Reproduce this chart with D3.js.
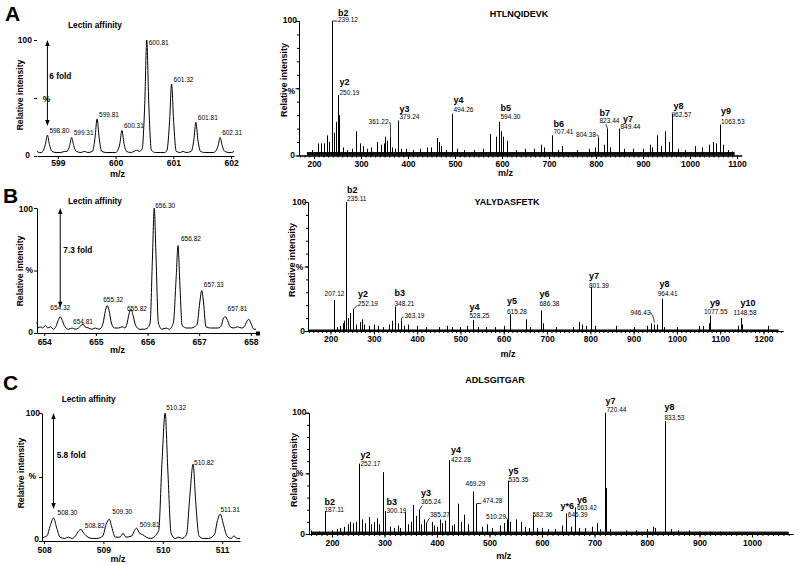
<!DOCTYPE html>
<html>
<head>
<meta charset="utf-8">
<script src="https://cdn.jsdelivr.net/npm/d3@7"></script>
<style>
html,body{margin:0;padding:0;background:#fff;}
svg{display:block;}
</style>
</head>
<body>
<svg id="chart" width="800" height="565"></svg>
<script>
// ---------------- DATA ----------------
const panelLetters = ["A", "B", "C"];
const peptideNames = ["HTLNQIDEVK", "YALYDASFETK", "ADLSGITGAR"];
const enrichmentLabel = "Lectin affinity";
const foldChanges = ["6 fold", "7.3 fold", "5.8 fold"];
const axisTitleY = "Relative intensity";
const axisTitleX = "m/z";

// isotope envelopes (left column)
const isoTicksA = [599, 600, 601, 602];
const isoTicksB = [654, 655, 656, 657, 658];
const isoTicksC = [508, 509, 510, 511];

// [annotation, apex position read on the drawn m/z axis, % intensity]
const isoPeaksA = [["598.80", 598.82, 18], ["599.31", 599.24, 16], ["599.81", 599.68, 32], ["600.31", 600.11, 22], ["600.81", 600.54, 100], ["601.32", 600.97, 62], ["601.81", 601.39, 29], ["602.31", 601.81, 16]];
const isoPeaksB = [["654.32", 654.31, 13], ["654.81", 654.75, 7], ["655.32", 655.22, 22], ["655.82", 655.68, 19], ["656.30", 656.13, 100], ["656.82", 656.59, 70], ["657.33", 657.05, 34], ["657.81", 657.51, 13]];
const isoPeaksC = [["508.30", 508.16, 18], ["508.82", 508.62, 9], ["509.30", 509.10, 17], ["509.81", 509.56, 10], ["510.32", 510.04, 100], ["510.82", 510.51, 60], ["511.31", 510.97, 21]];

// profile traces [axis m/z, %]
const isoProfileA = [[598.64,4],[598.68,3],[598.72,3],[598.74,4],[598.785,10],[598.82,18],[598.855,10],[598.90,4],[598.97,3],[599.05,3],[599.12,4],[599.16,4],[599.205,9],[599.24,16],[599.275,9],[599.32,4],[599.40,3],[599.46,4],[599.52,3],[599.60,4],[599.645,16],[599.68,32],[599.715,16],[599.76,4],[599.84,3],[599.94,3],[600.00,3],[600.03,4],[600.075,11],[600.11,22],[600.145,11],[600.19,4],[600.26,3],[600.32,4],[600.36,5],[600.41,4],[600.46,6],[600.505,45],[600.54,100],[600.575,45],[600.62,5],[600.69,3],[600.78,3],[600.85,3],[600.89,5],[600.935,30],[600.97,62],[601.005,30],[601.05,4],[601.12,3],[601.17,4],[601.22,3],[601.31,4],[601.355,14],[601.39,29],[601.425,14],[601.47,4],[601.54,3],[601.62,3],[601.69,3],[601.73,4],[601.775,9],[601.81,16],[601.845,9],[601.89,4],[601.96,3],[602.01,3],[602.05,4]];
const isoProfileB = [[653.86,9],[653.88,4],[653.92,5],[653.97,4],[654.02,6],[654.07,4],[654.12,5],[654.18,3],[654.225,5],[654.27,10],[654.31,13],[654.35,10],[654.40,5],[654.47,3],[654.54,4],[654.60,3],[654.66,4],[654.71,6],[654.75,7],[654.79,5],[654.86,4],[654.92,3],[654.99,4],[655.06,3],[655.10,4],[655.14,8],[655.185,18],[655.22,22],[655.255,18],[655.30,8],[655.36,4],[655.44,4],[655.51,5],[655.56,4],[655.60,7],[655.64,15],[655.68,19],[655.72,14],[655.77,6],[655.85,3],[655.94,3],[656.00,4],[656.05,8],[656.095,60],[656.13,100],[656.165,60],[656.21,8],[656.28,3],[656.36,4],[656.42,3],[656.50,8],[656.555,45],[656.59,70],[656.625,40],[656.67,6],[656.76,4],[656.85,4],[656.91,5],[656.96,7],[657.01,24],[657.05,34],[657.085,24],[657.13,5],[657.22,4],[657.31,4],[657.37,4],[657.43,6],[657.47,12],[657.51,13],[657.55,10],[657.60,5],[657.67,4],[657.74,5],[657.82,4],[657.87,5],[657.92,9],[657.96,11],[658.00,8],[658.06,3],[658.10,3]];
const isoProfileC = [[507.97,2],[508.00,3],[508.05,4],[508.105,12],[508.16,18],[508.215,10],[508.27,3],[508.35,2],[508.41,3],[508.47,2],[508.53,4],[508.585,8],[508.62,9],[508.67,6],[508.74,3],[508.81,2],[508.89,2],[508.99,4],[509.045,13],[509.10,17],[509.14,11],[509.20,3],[509.28,3],[509.33,6],[509.38,3],[509.48,4],[509.52,8],[509.56,10],[509.61,6],[509.66,5],[509.72,3],[509.80,2],[509.93,8],[509.985,60],[510.04,100],[510.085,55],[510.14,6],[510.21,2],[510.27,3],[510.32,2],[510.40,5],[510.455,35],[510.51,60],[510.555,30],[510.61,4],[510.68,2],[510.77,2],[510.87,5],[510.92,16],[510.97,21],[511.015,14],[511.08,4],[511.15,2],[511.20,4],[511.25,2],[511.30,2]];

// MS/MS spectra (right column)
const msTicksA = [200, 300, 400, 500, 600, 700, 800, 900, 1000, 1100];
const msTicksB = [200, 300, 400, 500, 600, 700, 800, 900, 1000, 1100, 1200];
const msTicksC = [200, 300, 400, 500, 600, 700, 800, 900, 1000];

// [ion, m/z, %, (observed axis m/z when different)]
const ionsA = [["b2",239.12,100],["y2",250.19,45],["",361.22,13],["y3",379.24,26],["y4",494.26,31],["b5",594.30,25],["b6",707.41,15],["",804.38,13],["b7",823.44,20],["y7",849.44,20],["y8",962.57,31],["y9",1063.53,23]];
const ionsB = [["",207.12,24],["b2",235.11,100],["y2",252.19,17],["b3",348.21,19],["",363.19,8],["y4",528.25,8.5],["y5",615.28,13],["y6",686.38,16],["y7",801.39,34],["",946.43,5],["y8",964.41,25],["y9",1077.55,12],["y10",1148.58,10]];
const ionsC = [["b2",187.11,19],["y2",252.17,58],["b3",300.19,19],["y3",365.24,20],["",385.27,9,380],["y4",422.28,61],["",469.29,35],["",474.28,25],["",510.29,12,533],["y5",535.35,44],["",582.36,16],["y*6",646.39,17],["y6",663.42,22],["y7",720.44,100],["y8",833.53,93]];

// other, unlabelled peaks [m/z, %]
const otherPeaksA = [[195,4],[208,9],[214,9],[222,9],[227,15],[232,10],[242,17],[246,25],[253,30],[262,6],[270,4],[280,5],[290,18],[298,9],[305,7],[312,5],[322,6],[335,10],[342,8],[348,9],[352,14],[356,11],[365,6],[372,5],[385,5],[395,5],[410,4],[425,5],[440,6],[450,6],[462,13],[466,10],[470,7],[480,4],[505,5],[520,4],[540,4],[560,5],[575,16],[588,14],[598,18],[603,14],[610,11],[630,4],[650,5],[668,5],[683,8],[690,6],[720,4],[728,7],[760,4],[785,5],[798,6],[818,8],[830,6],[860,5],[878,5],[900,5],[915,8],[920,6],[930,15],[938,7],[946,18],[955,10],[975,5],[990,4],[1010,7],[1025,6],[1040,8],[1048,10],[1055,9],[1070,8],[1080,4],[1090,3]];
const otherPeaksB = [[215,3],[222,4],[228,6],[232,8],[240,10],[246,14],[258,5],[268,7],[272,9],[278,5],[290,4],[300,5],[310,4],[322,3],[335,5],[342,8],[355,6],[370,4],[380,5],[400,4],[420,3],[450,3],[470,4],[480,3],[500,3],[515,4],[540,3],[560,3],[580,3],[600,4],[652,9],[660,3],[690,6],[720,3],[760,3],[775,7],[780,5],[790,4],[810,4],[860,4],[900,3],[930,4],[940,6],[955,5],[970,3],[1000,3],[1050,4],[1060,4],[1075,6],[1140,4],[1150,5],[1210,4]];
const otherPeaksC = [[160,3],[175,2],[200,3],[210,4],[215,5],[222,6],[230,8],[235,10],[240,9],[245,10],[258,12],[262,9],[270,14],[275,8],[280,10],[285,13],[290,8],[297,51],[310,6],[318,5],[325,7],[330,5],[340,18],[345,8],[350,10],[355,24],[360,15],[370,8],[375,12],[390,10],[395,7],[400,6],[405,12],[410,9],[415,11],[428,7],[432,8],[440,25],[445,10],[452,16],[460,8],[485,6],[495,8],[505,5],[520,7],[528,9],[540,10],[550,12],[560,10],[567,6],[575,5],[590,5],[600,5],[612,4],[625,4],[638,7],[655,6],[670,5],[682,5],[695,6],[705,9],[710,4],[722,38],[730,4],[760,3],[780,3],[800,4],[812,6],[815,5],[835,38],[845,4],[860,3],[880,3],[900,2],[920,2],[940,2]];

// ---------------- DRAWING ----------------
const FONT = "'Liberation Sans', Arial, Helvetica, sans-serif";
const svg = d3.select("#chart");

function addText(g, x, y, s, o = {}) {
  const t = g.append("text").attr("x", x).attr("y", y).text(s)
    .attr("font-family", FONT).attr("font-size", o.size || 9)
    .attr("font-weight", o.weight || "normal")
    .attr("text-anchor", o.anchor || "start").attr("fill", "#000");
  if (o.rotate) t.attr("transform", `rotate(-90,${x},${y})`);
  return t;
}
function styleAxis(a, size, dyText) {
  a.select(".domain").attr("stroke", "#000").attr("stroke-width", 1);
  a.selectAll(".tick line").attr("stroke", "#000").attr("stroke-width", 1);
  a.selectAll(".tick text").attr("dy", null).attr("y", dyText)
    .attr("font-family", FONT).attr("font-size", size).attr("font-weight", "bold").attr("fill", "#000");
}
function vArrow(g, x, y1, y2) {
  g.append("line").attr("x1", x).attr("x2", x).attr("y1", y1 + 4).attr("y2", y2 - 4)
    .attr("stroke", "#000").attr("stroke-width", 1);
  g.append("path").attr("d", `M${x},${y1} L${x - 2.2},${y1 + 6} L${x + 2.2},${y1 + 6} Z`).attr("fill", "#000");
  g.append("path").attr("d", `M${x},${y2} L${x - 2.2},${y2 - 6} L${x + 2.2},${y2 - 6} Z`).attr("fill", "#000");
}

// ---- left column: isotope envelopes ----
const isoPanels = [
  { letter: panelLetters[0], fold: foldChanges[0], ticks: isoTicksA, peaks: isoPeaksA, profile: isoProfileA,
    domain: [598.64, 602.05], left: 37, right: 234, top: 40, bottom: 156, yLine: false, tickDy: 10,
    letterPos: [5, 21], lectin: [68, 28], foldPos: [49.3, 79], mz: [117.5, 176.8],
    ri: [23, 95], y100: [32, 43.3, "end"], yPct: [42.7, 101.7, "start"], y0: [30, 158.3, "end"],
    layout: { "600.81": { dy: 5 } } },
  { letter: panelLetters[1], fold: foldChanges[1], ticks: isoTicksB, peaks: isoPeaksB, profile: isoProfileB,
    domain: [653.86, 658.10], left: 37, right: 256, top: 208, bottom: 333, yLine: true, tickDy: 12, endMark: true,
    letterPos: [3, 203], lectin: [68, 204], foldPos: [63.3, 253.3], mz: [117.5, 353],
    ri: [23, 271], y100: [33, 211.7, "end"], yPct: [33, 273.3, "end"], y0: [33, 335, "end"],
    layout: { "654.32": { anchor: "middle", dx: 0, dy: -6.4 }, "654.81": { anchor: "middle", dx: 0, dy: 0 },
      "655.32": { dx: -4, dy: -3.9 }, "655.82": { dx: -4, dy: 2 }, "656.30": { dx: 1, dy: 0 },
      "656.82": { dx: 3, dy: -4.2 }, "657.33": { dx: 2, dy: -3.9 }, "657.81": { dx: 2, dy: -5.4 } } },
  { letter: panelLetters[2], fold: foldChanges[2], ticks: isoTicksC, peaks: isoPeaksC, profile: isoProfileC,
    domain: [507.966, 511.30], left: 42, right: 240, top: 413, bottom: 541, yLine: true, tickDy: 12,
    letterPos: [3, 390], lectin: [61.7, 402.3], foldPos: [56.7, 458.3], mz: [118, 562],
    ri: [23.5, 473], y100: [40, 416, "end"], yPct: [36, 479.3, "end"], y0: [39, 542.3, "end"],
    layout: { "508.30": { dx: 4, dy: -2.7 }, "508.82": { dx: 4, dy: -1.2 }, "509.30": { dx: 3, dy: -4.9 },
      "509.81": { dx: 3, dy: -0.9 }, "510.32": { dx: 1, dy: -2.7 }, "510.82": { dx: 1, dy: 1 }, "511.31": { dx: 0, dy: -1.8 } } }
];

isoPanels.forEach(c => {
  const g = svg.append("g");
  const x = d3.scaleLinear().domain(c.domain).range([c.left, c.right]);
  const y = d3.scaleLinear().domain([0, 100]).range([c.bottom, c.top]);

  const ax = g.append("g").attr("transform", `translate(0,${c.bottom})`)
    .call(d3.axisBottom(x).tickValues(c.ticks).tickSize(3).tickSizeOuter(0).tickFormat(d3.format("d")));
  styleAxis(ax, 8.5, c.tickDy);
  const ay = g.append("g").attr("transform", `translate(${c.left},0)`)
    .call(d3.axisLeft(y).tickValues([0, 50, 100]).tickSize(3).tickSizeOuter(0).tickFormat(() => ""));
  styleAxis(ay, 8.5, 0);
  if (!c.yLine) ay.select(".domain").remove();
  if (c.endMark) g.append("rect").attr("x", c.right).attr("y", c.bottom - 1.5).attr("width", 4).attr("height", 4).attr("fill", "#000");

  g.append("path").datum(c.profile)
    .attr("d", d3.line().x(d => x(d[0])).y(d => y(d[1])).curve(d3.curveMonotoneX))
    .attr("fill", "none").attr("stroke", "#000").attr("stroke-width", 1);

  c.peaks.forEach(([lab, m, h]) => {
    const L = c.layout[lab] || {};
    addText(g, x(m) + (L.dx ?? 2), y(h) + (L.dy ?? -2), lab, { size: 6.5, anchor: L.anchor || "start" });
  });

  const first = c.peaks[0];
  vArrow(g, x(first[1]), y(100), y(first[2]) - 9);
  addText(g, c.foldPos[0], c.foldPos[1], c.fold, { size: 8.3, weight: "bold" });

  addText(g, c.letterPos[0], c.letterPos[1], c.letter, { size: 21, weight: "bold" });
  addText(g, c.lectin[0], c.lectin[1], enrichmentLabel, { size: 8.3, weight: "bold" });
  addText(g, c.mz[0], c.mz[1], axisTitleX, { size: 9, weight: "bold", anchor: "middle" });
  addText(g, c.ri[0], c.ri[1], axisTitleY, { size: 8.6, weight: "bold", anchor: "middle", rotate: true });
  addText(g, c.y100[0], c.y100[1], "100", { size: 8.5, weight: "bold", anchor: c.y100[2] });
  addText(g, c.yPct[0], c.yPct[1], "%", { size: 8.5, weight: "bold", anchor: c.yPct[2] });
  addText(g, c.y0[0], c.y0[1], "0", { size: 8.5, weight: "bold", anchor: c.y0[2] });
});

// ---- right column: fragment spectra ----
const msPanels = [
  { title: peptideNames[0], ticks: msTicksA, ions: ionsA, other: otherPeaksA,
    domain: [168.1, 1110], left: 299, right: 741.7, top: 21, bottom: 155.5, tickDy: 11, noise: [185, 1095, 2.6],
    titlePos: [519, 17], mz: [505.5, 176], ri: [286.5, 80],
    y100: [297, 23.3], yPct: [295, 94], y0: [295, 157.7],
    layout: {
      "239.12": { dx: 5.5, ion: -5.3, num: 1.3, leader: [[0, 0], [5, 0]] },
      "250.19": { dx: 1, ion: -10, num: 0 },
      "361.22": { anchor: "end", dx: -2, num: -14, leader: [[-1.5, -16], [0, -16], [0, 0]] },
      "379.24": { dx: 1, ion: -9, num: -1.2 },
      "494.26": { dx: 1, ion: -10.7, num: -2.3 },
      "594.30": { dx: 1, ion: -11, num: -3 },
      "707.41": { dx: 1, ion: -8, num: -1 },
      "804.38": { anchor: "end", dx: -2.5, num: -1.3, leader: [[-2, -3], [0, -3], [0, 0]] },
      "823.44": { dx: -8, ion: -13, num: -6, leader: [[-1.7, -4.5], [0, 0]] },
      "849.44": { dx: 1, ionDx: 3.5, ion: -6.3, num: 0.4 },
      "962.57": { dx: -1, ionDx: 1, ion: -4.8, num: 3.2 },
      "1063.53": { dx: 0.5, ion: -10.6, num: -0.6 } } },
  { title: peptideNames[1], ticks: msTicksB, ions: ionsB, other: otherPeaksB,
    domain: [148.0, 1245.0], left: 308, right: 783, top: 202, bottom: 331, tickDy: 11, noise: [150, 1235, 1.2],
    titlePos: [507, 205], mz: [508, 357], ri: [294.5, 260],
    y100: [306.5, 204.5], yPct: [303.3, 270], y0: [305, 334.3],
    layout: {
      "207.12": { anchor: "middle", dx: 0, num: -4 },
      "235.11": { dx: 0.5, ion: -9.3, num: -1.3 },
      "252.19": { dx: 4.5, ion: -11.7, num: -3.3, leader: [[4, -4], [0, 0]] },
      "348.21": { dx: -1, ion: -10.5, num: -0.8 },
      "363.19": { dx: 3, num: -2.4, leader: [[2, -3.5], [0, -3.5], [0, 0]] },
      "528.25": { dx: -4, ion: -9.6, num: -1.6 },
      "615.28": { dx: -3.5, ion: -10.4, num: -0.4 },
      "686.38": { dx: -2, ion: -13, num: -4.4 },
      "801.39": { dx: -2.5, ion: -7.8, num: 1.2 },
      "946.43": { anchor: "end", dx: -4, num: -10, leader: [[-4, -12.5], [-1.2, -8], [0, -2]] },
      "964.41": { dx: -4.8, ionDx: -3, ion: -12, num: -2.7 },
      "1077.55": { dx: -6.5, ionDx: -0.5, ion: -9.8, num: -1.2 },
      "1148.58": { dx: -8, ionDx: -1, ion: -12.4, num: -3.1 } } },
  { title: peptideNames[2], ticks: msTicksC, ions: ionsC, other: otherPeaksC,
    domain: [156.2, 1078.1], left: 309, right: 793, top: 412.7, bottom: 534, tickDy: 12, noise: [160, 1070, 2],
    titlePos: [495, 383], mz: [503.7, 559], ri: [296.5, 470],
    y100: [306.5, 415], yPct: [303.3, 476], y0: [305, 536.7],
    layout: {
      "187.11": { dx: -1, ion: -6, num: 1.3 },
      "252.17": { dx: 1, ion: -6, num: 2 },
      "300.19": { dx: 1, ion: -5.7, num: 1.7 },
      "365.24": { dx: 1.5, ion: -13.7, num: -5.7, leader: [[2.5, -4], [0, 0]] },
      "385.27": { dx: 3.5, num: -5.7, leader: [[3, -5], [0, 0]] },
      "422.28": { dx: 1.5, ion: -7.4, num: 1.6 },
      "469.29": { anchor: "middle", dx: 2, num: -5.5 },
      "474.28": { dx: 6, num: -0.4, leader: [[0, 0], [5, -0.5]] },
      "510.29": { anchor: "end", dx: -1.5, num: 0, leader: [[-1.5, -2], [0, 0]] },
      "535.35": { dx: 0, ion: -6.3, num: 1.1 },
      "582.36": { dx: -1, num: 2 },
      "646.39": { dx: 1.3, ionDx: -6, ion: -4.8, num: 3.3 },
      "663.42": { dx: 1.4, ion: -4.3, num: 3 },
      "720.44": { dx: 1, ionDx: 0, ion: -8.4, num: -0.4 },
      "833.53": { dx: -1, ion: -11.5, num: -1.2 } } }
];

msPanels.forEach(c => {
  const g = svg.append("g");
  const x = d3.scaleLinear().domain(c.domain).range([c.left, c.right]);
  const y = d3.scaleLinear().domain([0, 100]).range([c.bottom, c.top]);

  g.append("rect").attr("x", x(c.noise[0])).attr("width", x(c.noise[1]) - x(c.noise[0]))
    .attr("y", y(c.noise[2])).attr("height", y(0) - y(c.noise[2])).attr("fill", "#111");

  const sticks = c.other.map(d => ({ m: d[0], h: d[1] }))
    .concat(c.ions.map(d => ({ m: d[3] ?? d[1], h: d[2] })));
  g.selectAll("line.stick").data(sticks).join("line").attr("class", "stick")
    .attr("x1", d => Math.round(x(d.m)) + 0.5).attr("x2", d => Math.round(x(d.m)) + 0.5)
    .attr("y1", y(0)).attr("y2", d => y(d.h))
    .attr("stroke", "#000").attr("stroke-width", 1);

  const minor = d3.range(Math.ceil(c.domain[0] / 10) * 10, c.domain[1], 10);
  const mt = g.append("g").attr("transform", `translate(0,${c.bottom})`)
    .call(d3.axisBottom(x).tickValues(minor).tickSize(2).tickSizeOuter(0).tickFormat(() => ""));
  styleAxis(mt, 8.5, 0);
  const ax = g.append("g").attr("transform", `translate(0,${c.bottom})`)
    .call(d3.axisBottom(x).tickValues(c.ticks).tickSize(3.5).tickSizeOuter(0).tickFormat(d3.format("d")));
  styleAxis(ax, 8.5, c.tickDy);
  const ay = g.append("g").attr("transform", `translate(${c.left},0)`)
    .call(d3.axisLeft(y).tickValues(d3.range(0, 101, 10)).tickSize(2).tickSizeOuter(0).tickFormat(() => ""));
  styleAxis(ay, 8.5, 0);
  const ay2 = g.append("g").attr("transform", `translate(${c.left},0)`)
    .call(d3.axisLeft(y).tickValues([0, 50, 100]).tickSize(3.5).tickSizeOuter(0).tickFormat(() => ""));
  styleAxis(ay2, 8.5, 0);

  c.ions.forEach(d => {
    const [ion, mz, h, pos] = d;
    const px = Math.round(x(pos ?? mz)) + 0.5, top = y(h);
    const L = c.layout[mz.toFixed(2)] || {};
    const dx = L.dx ?? 1;
    if (ion) addText(g, px + (L.ionDx ?? dx), top + (L.ion ?? -10), ion, { size: 9, weight: "bold" });
    addText(g, px + dx, top + (L.num ?? -1), mz.toFixed(2), { size: 6.5, anchor: L.anchor || "start" });
    if (L.leader) g.append("path")
      .attr("d", d3.line().curve(d3.curveBasis)(L.leader.map(([a, b]) => [px + a, top + b])))
      .attr("fill", "none").attr("stroke", "#000").attr("stroke-width", 0.8);
  });

  addText(g, c.titlePos[0], c.titlePos[1], c.title, { size: 9, weight: "bold", anchor: "middle" });
  addText(g, c.mz[0], c.mz[1], axisTitleX, { size: 9, weight: "bold", anchor: "middle" });
  addText(g, c.ri[0], c.ri[1], axisTitleY, { size: 9, weight: "bold", anchor: "middle", rotate: true });
  addText(g, c.y100[0], c.y100[1], "100", { size: 8.5, weight: "bold", anchor: "end" });
  addText(g, c.yPct[0], c.yPct[1], "%", { size: 8.5, weight: "bold", anchor: "end" });
  addText(g, c.y0[0], c.y0[1], "0", { size: 8.5, weight: "bold", anchor: "end" });
});
</script>
</body>
</html>
